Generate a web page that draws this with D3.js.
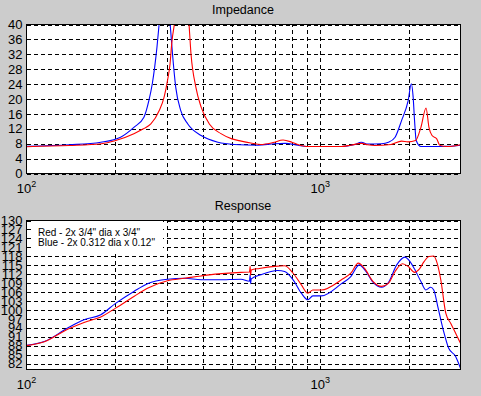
<!DOCTYPE html>
<html>
<head>
<meta charset="utf-8">
<script src="https://cdn.jsdelivr.net/npm/d3@7"></script>
<style>
body { margin: 0; background: #cccccc; }
svg { display: block; }
</style>
</head>
<body>
<svg width="481" height="396"></svg>
<script>
// impedance, ohms
var impFreqRed = [100, 140, 180, 200, 232, 250, 265, 283, 294, 302, 308, 312, 320, 330, 340, 350, 357, 363, 377, 393,
  419, 459, 500, 538, 580, 628, 690, 747, 800, 838, 907, 1000, 1180, 1270, 1380, 1450, 1530, 1740, 1890, 1990,
  2110, 2200, 2290, 2343, 2400, 2490, 2555, 2700, 2850, 3000]
var impRed = [7.2, 7.5, 8.0, 8.8, 10.7, 12.0, 13.3, 16.9, 20.5, 25.0, 29.4, 34.8, 41, 48, 52, 47, 40.5, 32.1, 23.2, 17.8,
  13.3, 10.7, 9.3, 8.7, 8.2, 7.8, 8.3, 9.0, 8.4, 7.8, 7.25, 7.25, 7.25, 7.6, 8.1, 7.7, 7.5, 7.8, 8.7, 8.5,
  8.85, 12.4, 17.6, 12.4, 10.2, 9.3, 7.5, 7.25, 7.4, 7.7]
var impFreqBlue = [100, 140, 179, 209, 232, 251, 261, 268, 273, 278, 283, 290, 296, 302, 308, 314, 322, 335, 354, 393,
  448, 510, 613, 700, 760, 838, 900, 1000, 1180, 1300, 1380, 1450, 1616, 1705, 1797, 1890, 1990, 2040, 2070, 2093,
  2120, 2200, 2580, 2700, 2850, 3000]
var impBlue = [7.3, 7.7, 8.4, 9.75, 12.4, 15.1, 19.6, 24.1, 28.5, 33.9, 40.5, 50, 55, 50, 40.5, 32.1, 23.2, 16.9, 13.3, 10.2,
  8.4, 7.8, 7.6, 8.0, 8.1, 7.6, 7.25, 7.25, 7.25, 7.7, 8.4, 7.9, 8.0, 8.4, 9.75, 14.2, 19.5, 24.1, 20.5, 14.2,
  8.85, 7.25, 7.25, 7.3, 7.4, 7.6]

// response, dB
var respFreqRed = [100, 115, 138, 157, 179, 201, 232, 258, 302, 345, 393, 450, 537, 574, 577, 579, 582, 620, 699, 756,
  808, 862, 907, 943, 1008, 1180, 1270, 1347, 1412, 1513, 1616, 1705, 1797, 1904, 1990, 2093, 2172, 2255, 2343, 2433,
  2498, 2571, 2673, 2778, 2888, 3000]
var respRed = [88.0, 89.3, 93.5, 95.8, 97.6, 100.6, 104.5, 107.3, 109.8, 110.6, 111.4, 112.1, 112.6, 112.7, 114.6, 111.6, 113.4, 113.9, 114.6, 114.8,
  112.3, 108.4, 105.6, 106.7, 106.7, 110.1, 112.3, 115.7, 114.0, 109.5, 107.9, 108.9, 112.9, 115.5, 114.6, 112.6, 113.7, 116.2, 117.9, 118.1,
  115.7, 110.1, 98.9, 95.5, 92.2, 88.8]
var respFreqBlue = [100, 115, 138, 157, 179, 201, 232, 258, 302, 345, 393, 450, 537, 574, 577, 579, 582, 628, 717, 756,
  808, 862, 907, 943, 1008, 1180, 1270, 1357, 1430, 1513, 1616, 1705, 1820, 1940, 2020, 2093, 2200, 2285, 2373, 2433,
  2511, 2620, 2735, 2888, 3000]
var respBlue = [88.1, 89.4, 93.9, 96.7, 98.4, 102.2, 106.2, 108.8, 110.3, 110.6, 110.1, 110.1, 110.3, 109.6, 111.8, 108.8, 110.4, 111.8, 113.2, 112.9,
  110.1, 105.6, 103.4, 104.7, 104.7, 108.8, 111.2, 115.1, 112.9, 109.2, 107.6, 109.2, 115.1, 117.7, 116.2, 113.7, 109.5, 106.7, 107.6, 106.7,
  101.1, 93.3, 87.1, 84.4, 80.4]

var impTicks = [0, 4, 8, 12, 16, 20, 24, 28, 32, 36, 40]
var respTicks = [82, 85, 88, 91, 94, 97, 100, 103, 106, 109, 112, 115, 118, 121, 124, 127, 130]
var freqGrid = [200, 300, 400, 500, 600, 700, 800, 900, 1000, 2000]
var decades = [100, 1000]
var legendLines = ["Red - 2x 3/4\" dia x 3/4\"", "Blue - 2x 0.312 dia x 0.12\""]

var svg = d3.select("svg")
var font = "Arial, 'Liberation Sans', sans-serif"

function zip(fs, vs) {
  return fs.map(function (f, i) { return [f, vs[i]] })
}

function plot(id, top, yDomain, yTicks, title, red, blue, legend) {
  var left = 26, w = 434, h = 149
  var x = d3.scaleLog().domain([100, 3000]).range([left + 0.5, left + w + 0.5])
  var y = d3.scaleLinear().domain(yDomain).range([top + h + 0.5, top + 0.5])

  svg.append("rect")
    .attr("x", left).attr("y", top).attr("width", w).attr("height", h)
    .attr("fill", "white")

  svg.append("clipPath").attr("id", id)
    .append("rect")
      .attr("x", left).attr("y", top).attr("width", w + 1).attr("height", h + 1)

  var gy = svg.append("g")
    .attr("transform", "translate(" + (left + 0.5) + ",0)")
    .call(d3.axisLeft(y).tickValues(yTicks).tickSize(-w).tickPadding(4))
  gy.select(".domain").remove()
  gy.selectAll("line")
    .attr("stroke", "black")
    .attr("stroke-dasharray", "4,3")
    .attr("shape-rendering", "crispEdges")
  gy.selectAll("text")
    .attr("font-family", font)
    .attr("font-size", 13)
    .attr("fill", "black")

  var gx = svg.append("g")
    .attr("transform", "translate(0," + (top + h + 0.5) + ")")
    .call(d3.axisBottom(x).tickValues(freqGrid).tickSize(-h).tickFormat(""))
  gx.select(".domain").remove()
  gx.selectAll("line")
    .attr("stroke", "black")
    .attr("stroke-dasharray", "4,3")
    .attr("shape-rendering", "crispEdges")

  if (legend) {
    svg.append("rect")
      .attr("x", 31).attr("y", top + 1).attr("width", 132).attr("height", 33)
      .attr("fill", "white")
    svg.selectAll(".leg")
      .data(legend)
      .enter().append("text")
        .attr("x", 38)
        .attr("y", function (d, i) { return top + 16 + i * 10 })
        .attr("font-family", font)
        .attr("font-size", 10)
        .text(function (d) { return d })
  }

  var line = d3.line()
    .x(function (d) { return x(d[0]) })
    .y(function (d) { return y(d[1]) })
    .curve(d3.curveMonotoneX)

  svg.append("path")
    .datum(blue)
    .attr("clip-path", "url(#" + id + ")")
    .attr("fill", "none")
    .attr("stroke", "#0000ff")
    .attr("stroke-width", 1.1)
    .attr("d", line)
  svg.append("path")
    .datum(red)
    .attr("clip-path", "url(#" + id + ")")
    .attr("fill", "none")
    .attr("stroke", "#ff0000")
    .attr("stroke-width", 1.1)
    .attr("d", line)

  svg.append("rect")
    .attr("x", left + 0.5).attr("y", top + 0.5).attr("width", w).attr("height", h)
    .attr("fill", "none")
    .attr("stroke", "black")
    .attr("shape-rendering", "crispEdges")

  svg.append("text")
    .attr("x", left + w / 2)
    .attr("y", top - 10)
    .attr("text-anchor", "middle")
    .attr("font-family", font)
    .attr("font-size", 12.5)
    .text(title)

  var lab = svg.selectAll(".dec" + id)
    .data(decades)
    .enter().append("text")
      .attr("x", function (d) { return x(d) })
      .attr("y", top + h + 20)
      .attr("text-anchor", "middle")
      .attr("font-family", font)
      .attr("font-size", 13)
  lab.append("tspan").text("10")
  lab.append("tspan")
    .attr("dy", -6)
    .attr("font-size", 9)
    .text(function (d) { return Math.round(Math.log10(d)) })
}

plot("imp", 24, [0, 40], impTicks, "Impedance", zip(impFreqRed, impRed), zip(impFreqBlue, impBlue), null)
plot("resp", 220, [80, 130], respTicks, "Response", zip(respFreqRed, respRed), zip(respFreqBlue, respBlue), legendLines)
</script>
</body>
</html>
